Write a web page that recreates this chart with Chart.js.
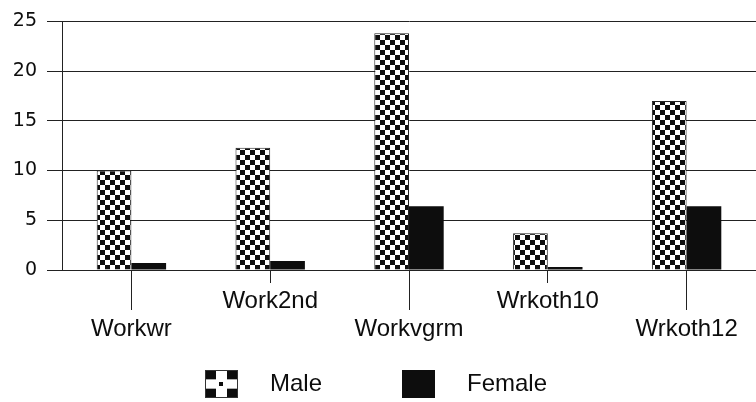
<!DOCTYPE html>
<html>
<head>
<meta charset="utf-8">
<script src="https://cdn.jsdelivr.net/npm/chart.js@4.4.1/dist/chart.umd.min.js"></script>
<style>
  html, body { margin: 0; padding: 0; background: #fff; }
  #wrap { width: 756px; height: 402px; position: relative; }
</style>
</head>
<body>
<div id="wrap"><canvas id="myChart"></canvas></div>
<script>
const categories = ['Workwr', 'Work2nd', 'Workvgrm', 'Wrkoth10', 'Wrkoth12'];
const maleValues = [10.0, 12.3, 23.8, 3.7, 17.0];
const femaleValues = [0.7, 0.9, 6.4, 0.3, 6.4];
const yTicks = [0, 5, 10, 15, 20, 25];
const seriesNames = ['Male', 'Female'];

const FONT = "'Liberation Sans', Arial, sans-serif";
const INK = '#0d0d0d';

// checkered fill used by the Male bars
const makeChecker = (cell) => {
  const c = document.createElement('canvas');
  c.width = cell * 2;
  c.height = cell * 2;
  const g = c.getContext('2d');
  g.fillStyle = '#fff';
  g.fillRect(0, 0, c.width, c.height);
  g.fillStyle = INK;
  g.fillRect(0, 0, cell, cell);
  g.fillRect(cell, cell, cell, cell);
  return c;
};

// legend swatches
const makeSwatch = (checkered) => {
  const c = document.createElement('canvas');
  c.width = 33;
  c.height = 28;
  const g = c.getContext('2d');
  g.fillStyle = checkered ? '#fff' : INK;
  g.fillRect(0, 0, 33, 28);
  if (checkered) {
    g.fillStyle = INK;
    const w = 11, h = 28 / 3;
    for (let r = 0; r < 3; r++) {
      for (let k = 0; k < 3; k++) {
        if ((r + k) % 2 === 0 && !(r === 1 && k === 1)) g.fillRect(k * w, r * h, w, h);
      }
    }
    g.fillRect(14, 12, 4, 4);
    g.strokeStyle = '#333';
    g.strokeRect(0.5, 0.5, 32, 27);
  }
  return c;
};

const checkerPattern = document.createElement('canvas').getContext('2d')
  .createPattern(makeChecker(5), 'repeat');
const swatches = [makeSwatch(true), makeSwatch(false)];

// longer tick marks under the lower (staggered) labels
const longTicks = {
  id: 'longTicks',
  afterDraw(chart) {
    const x = chart.scales.x;
    const ctx = chart.ctx;
    ctx.save();
    ctx.strokeStyle = '#222';
    ctx.lineWidth = 1;
    categories.forEach((c, i) => {
      if (i % 2) return;
      const px = Math.round(x.getPixelForTick(i) - 0.5) + 0.5;
      ctx.beginPath();
      ctx.moveTo(px, x.top);
      ctx.lineTo(px, x.top + 40);
      ctx.stroke();
    });
    ctx.restore();
  }
};

// place the legend row where the original has it
const legendShift = {
  id: 'legendShift',
  afterLayout(chart) {
    const lg = chart.legend;
    if (!lg || !lg.lineWidths) return;
    const pad = lg.options.labels.padding;
    lg.right = 2 * 185 - lg.left - pad + lg.lineWidths[0];
    lg.top = 312;
    lg.bottom = 402;
  }
};

const ctx = document.getElementById('myChart').getContext('2d');
new Chart(ctx, {
  type: 'bar',
  data: {
    labels: categories,
    datasets: [
      {
        label: seriesNames[0],
        data: maleValues,
        backgroundColor: checkerPattern,
        borderColor: '#222',
        borderWidth: 1,
        barPercentage: 1.0,
        categoryPercentage: 0.5
      },
      {
        label: seriesNames[1],
        data: femaleValues,
        backgroundColor: INK,
        borderWidth: 0,
        barPercentage: 1.0,
        categoryPercentage: 0.5
      }
    ]
  },
  options: {
    responsive: true,
    maintainAspectRatio: false,
    animation: false,
    layout: { padding: { top: 19, right: 0, left: 0, bottom: 0 } },
    plugins: {
      tooltip: { enabled: false },
      legend: {
        position: 'bottom',
        maxHeight: 56,
        labels: {
          usePointStyle: true,
          pointStyleWidth: 73,
          padding: 60,
          color: INK,
          font: { family: FONT, size: 24 },
          generateLabels(chart) {
            const items = Chart.defaults.plugins.legend.labels.generateLabels(chart);
            items.forEach((it, i) => { it.pointStyle = swatches[i]; });
            return items;
          }
        }
      }
    },
    scales: {
      x: {
        grid: { drawOnChartArea: false, offset: false, tickLength: 13, color: '#222' },
        border: { color: '#222' },
        ticks: {
          padding: 4,
          maxRotation: 0,
          autoSkip: false,
          color: INK,
          font: { family: FONT, size: 24, lineHeight: 1.17 },
          callback(v, i) {
            return i % 2 ? [categories[i]] : ['', categories[i]];
          }
        },
        afterFit(s) { s.height = 76; }
      },
      y: {
        min: 0,
        max: 25,
        afterBuildTicks(s) { s.ticks = yTicks.map(v => ({ value: v })); },
        ticks: { padding: 10, color: INK, font: { family: "'DejaVu Sans', sans-serif", size: 19 } },
        grid: { color: '#222', tickLength: 15 },
        border: { color: '#222' },
        afterFit(s) { s.width = 62; }
      }
    }
  },
  plugins: [longTicks, legendShift]
});
</script>
</body>
</html>
